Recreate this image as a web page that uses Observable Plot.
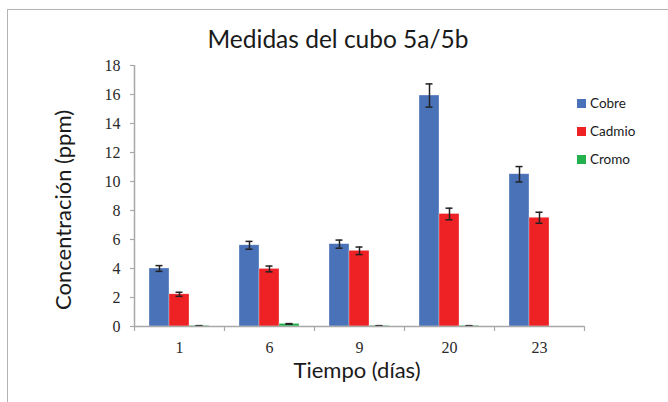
<!DOCTYPE html>
<html>
<head>
<meta charset="utf-8">
<script src="https://cdn.jsdelivr.net/npm/d3@7"></script>
<script src="https://cdn.jsdelivr.net/npm/@observablehq/plot@0.6"></script>
<style>
  html, body { margin: 0; padding: 0; background: #fff; overflow: hidden; }
  #wrap { position: relative; width: 668px; height: 402px; overflow: hidden; }
  #border { position: absolute; left: 7px; top: 9px; width: 700px; height: 420px; border: 1.5px solid #b4b4b4; box-sizing: border-box; }
  .t { position: absolute; font-family: Lato, "Open Sans", sans-serif; color: #1a1a1a; white-space: nowrap; }
  #title { left: 0; width: 676px; text-align: center; top: 24px; font-size: 24.5px; line-height: 30px; }
  #xlabel { left: 0; width: 714px; text-align: center; top: 356px; font-size: 22px; line-height: 28px; }
  #ylabel { left: 63px; top: 210px; font-size: 22px; line-height: 28px; transform: translate(-50%, -50%) rotate(-90deg); }
  #legend { position: absolute; left: 577px; top: 89px; font-family: Lato, "Open Sans", sans-serif; font-size: 13.5px; color: #1a1a1a; }
  #legend .item { height: 28px; display: flex; align-items: center; }
  #legend .sw { width: 9px; height: 9px; margin-right: 4px; }
  #chart { position: absolute; left: 0; top: 0; }
  #chart svg text { font-family: "Liberation Serif", "Times New Roman", serif !important; font-size: 16px !important; }
</style>
</head>
<body>
<div id="wrap">
  <div id="border"></div>
  <div id="chart"></div>
  <div class="t" id="title">Medidas del cubo 5a/5b</div>
  <div class="t" id="xlabel">Tiempo (días)</div>
  <div class="t" id="ylabel">Concentración (ppm)</div>
  <div id="legend"></div>
</div>
<script>
// ---- data ----
const days = ["1", "6", "9", "20", "23"];
const series = ["Cobre", "Cadmio", "Cromo"];
const colors = ["#4a72b8", "#ee2125", "#22b14c"];
const cobre = [4.0, 5.6, 5.68, 15.93, 10.5];
const cobreErr = [0.2, 0.27, 0.28, 0.8, 0.53];
const cadmio = [2.22, 3.97, 5.22, 7.76, 7.5];
const cadmioErr = [0.14, 0.2, 0.26, 0.4, 0.38];
const cromo = [0.05, 0.18, 0.05, 0.05, 0];
const cromoErr = [0.01, 0.02, 0.01, 0.01, 0];
const yTicks = [0, 2, 4, 6, 8, 10, 12, 14, 16, 18];

// ---- build table ----
const values = [cobre, cadmio, cromo];
const errors = [cobreErr, cadmioErr, cromoErr];
const groupPad = 1 / 6;          // outer padding of each day group (fraction of category)
const barW = (1 - 2 * groupPad) / series.length;
const rows = [];
days.forEach((d, i) => {
  series.forEach((s, k) => {
    const x1 = i + groupPad + k * barW;
    rows.push({
      day: d, series: s, value: values[k][i], err: errors[k][i],
      x1, x2: x1 + barW, xc: x1 + barW / 2
    });
  });
});
const errRows = rows.filter(r => r.err > 0);

const plot = Plot.plot({
  width: 668,
  height: 402,
  marginLeft: 134,
  marginRight: 84,
  marginTop: 65,
  marginBottom: 76,
  style: { background: "transparent", fontFamily: "'Liberation Serif', 'Times New Roman', serif", fontSize: "16px", color: "#333" },
  x: { type: "linear", domain: [0, days.length], axis: null },
  y: { type: "linear", domain: [0, 18], axis: null },
  color: { domain: series, range: colors },
  marks: [
    Plot.rectY(rows, { x1: "x1", x2: "x2", y: "value", fill: "series", stroke: "#ffffff", strokeOpacity: 0.5, strokeWidth: 0.6 }),
    Plot.ruleX(errRows, { x: "xc", y1: d => d.value - d.err, y2: d => d.value + d.err, stroke: "#222", strokeWidth: 1.5 }),
    Plot.ruleY(errRows, { x1: "x1", x2: "x2", y: d => d.value - d.err, stroke: "#222", strokeWidth: 1.5, insetLeft: 6.5, insetRight: 6.5 }),
    Plot.ruleY(errRows, { x1: "x1", x2: "x2", y: d => d.value + d.err, stroke: "#222", strokeWidth: 1.5, insetLeft: 6.5, insetRight: 6.5 }),
    Plot.ruleY([0], { stroke: "#a8a8a8", strokeWidth: 1.5 }),
    Plot.ruleX([0], { stroke: "#a8a8a8", strokeWidth: 1.5 }),
    Plot.axisY({ ticks: yTicks, tickSize: 4, tickPadding: 10, stroke: "#a8a8a8", strokeWidth: 1.2, label: null, fill: "#2a2a2a" }),
    Plot.axisX({ ticks: d3.range(days.length + 1), tickSize: 5, tickFormat: () => "", stroke: "#a8a8a8", strokeWidth: 1.2, label: null }),
    Plot.axisX({ ticks: d3.range(days.length).map(i => i + 0.5), tickSize: 0, tickPadding: 15, tickFormat: v => days[Math.floor(v)], label: null, fill: "#2a2a2a" })
  ]
});
document.getElementById("chart").appendChild(plot);

const legend = document.getElementById("legend");
series.forEach((s, k) => {
  const item = document.createElement("div");
  item.className = "item";
  const sw = document.createElement("span");
  sw.className = "sw";
  sw.style.background = colors[k];
  const lab = document.createElement("span");
  lab.textContent = s;
  item.appendChild(sw);
  item.appendChild(lab);
  legend.appendChild(item);
});
</script>
</body>
</html>
